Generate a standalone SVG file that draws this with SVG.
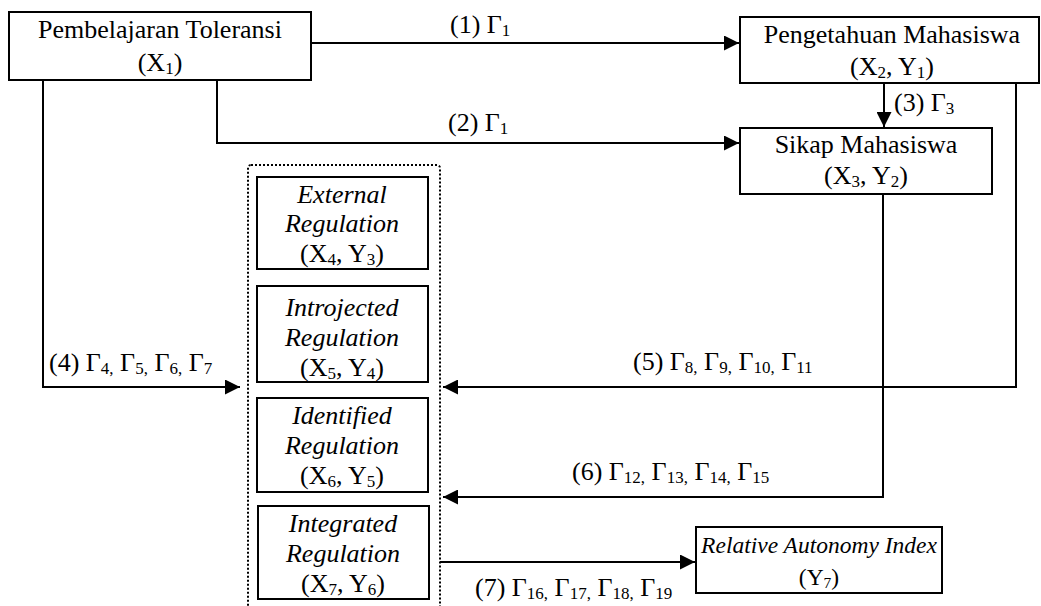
<svg xmlns="http://www.w3.org/2000/svg" width="1041" height="606" viewBox="0 0 1041 606">
<style>
  .box{fill:#fff;stroke:#000;stroke-width:2}
  .t{font-family:"Liberation Serif","Times New Roman",serif;font-size:26px;fill:#000}
  .c{text-anchor:middle}
  .i{font-style:italic}
  .s{font-size:17px}
  .sm{font-size:23.5px}
  .ss{font-size:15.5px}
  .ln{fill:none;stroke:#000;stroke-width:2}
  .dot{fill:none;stroke:#000;stroke-width:2;stroke-dasharray:2 2}
</style>
<defs>
  <marker id="ah" markerUnits="userSpaceOnUse" markerWidth="15" markerHeight="15" refX="15" refY="7.5" orient="auto">
    <path d="M0,0 L15,7.5 L0,15 z" fill="#000"/>
  </marker>
</defs>
<rect width="1041" height="606" fill="#fff"/>

<g id="connectors">
  <path class="ln" d="M311,43 H739" marker-end="url(#ah)"/>
  <path class="ln" d="M217,80 V143 H739" marker-end="url(#ah)"/>
  <path class="ln" d="M884,83 V127" marker-end="url(#ah)"/>
  <path class="ln" d="M43,80 V387 H240" marker-end="url(#ah)"/>
  <path class="ln" d="M1016,83 V387 H443" marker-end="url(#ah)"/>
  <path class="ln" d="M883,194 V497 H443" marker-end="url(#ah)"/>
  <path class="ln" d="M440,562 H695" marker-end="url(#ah)"/>
  <text class="t" x="450" y="33">(1) Γ<tspan class="s" dy="3">1</tspan></text>
  <text class="t" x="448" y="131">(2) Γ<tspan class="s" dy="3">1</tspan></text>
  <text class="t" x="894" y="111">(3) Γ<tspan class="s" dy="3">3</tspan></text>
  <text class="t" x="49" y="371">(4) Γ<tspan class="s" dy="3">4,</tspan><tspan dy="-3"> Γ</tspan><tspan class="s" dy="3">5,</tspan><tspan dy="-3"> Γ</tspan><tspan class="s" dy="3">6,</tspan><tspan dy="-3"> Γ</tspan><tspan class="s" dy="3">7</tspan></text>
  <text class="t" x="633" y="370">(5) Γ<tspan class="s" dy="3">8,</tspan><tspan dy="-3"> Γ</tspan><tspan class="s" dy="3">9,</tspan><tspan dy="-3"> Γ</tspan><tspan class="s" dy="3">10,</tspan><tspan dy="-3"> Γ</tspan><tspan class="s" dy="3">11</tspan></text>
  <text class="t" x="572" y="480">(6) Γ<tspan class="s" dy="3">12,</tspan><tspan dy="-3"> Γ</tspan><tspan class="s" dy="3">13,</tspan><tspan dy="-3"> Γ</tspan><tspan class="s" dy="3">14,</tspan><tspan dy="-3"> Γ</tspan><tspan class="s" dy="3">15</tspan></text>
  <text class="t" x="475" y="596">(7) Γ<tspan class="s" dy="3">16,</tspan><tspan dy="-3"> Γ</tspan><tspan class="s" dy="3">17,</tspan><tspan dy="-3"> Γ</tspan><tspan class="s" dy="3">18,</tspan><tspan dy="-3"> Γ</tspan><tspan class="s" dy="3">19</tspan></text>
</g>

<g id="n-pembelajaran">
  <rect class="box" x="9" y="12" width="302" height="68"/>
  <text class="t c" x="160" y="38">Pembelajaran Toleransi</text>
  <text class="t c" x="160" y="71">(X<tspan class="s" dy="3">1</tspan><tspan dy="-3">)</tspan></text>
</g>

<g id="n-pengetahuan">
  <rect class="box" x="740" y="17" width="299" height="66"/>
  <text class="t c" x="892" y="43">Pengetahuan Mahasiswa</text>
  <text class="t c" x="892" y="75">(X<tspan class="s" dy="3">2</tspan><tspan dy="-3">, Y</tspan><tspan class="s" dy="3">1</tspan><tspan dy="-3">)</tspan></text>
</g>

<g id="n-sikap">
  <rect class="box" x="740" y="128" width="252" height="66"/>
  <text class="t c" x="866" y="153">Sikap Mahasiswa</text>
  <text class="t c" x="866" y="184">(X<tspan class="s" dy="3">3</tspan><tspan dy="-3">, Y</tspan><tspan class="s" dy="3">2</tspan><tspan dy="-3">)</tspan></text>
</g>

<g id="n-motivasi-group">
  <rect class="dot" x="248" y="165" width="192" height="460" rx="3"/>
</g>

<g id="n-external">
  <rect class="box" x="257" y="177" width="171" height="92"/>
  <text class="t c i" x="342" y="203">External</text>
  <text class="t c i" x="342" y="232">Regulation</text>
  <text class="t c" x="342" y="262">(X<tspan class="s" dy="3">4</tspan><tspan dy="-3">, Y</tspan><tspan class="s" dy="3">3</tspan><tspan dy="-3">)</tspan></text>
</g>

<g id="n-introjected">
  <rect class="box" x="257" y="286" width="171" height="96"/>
  <text class="t c i" x="342" y="316">Introjected</text>
  <text class="t c i" x="342" y="346">Regulation</text>
  <text class="t c" x="342" y="376">(X<tspan class="s" dy="3">5</tspan><tspan dy="-3">, Y</tspan><tspan class="s" dy="3">4</tspan><tspan dy="-3">)</tspan></text>
</g>

<g id="n-identified">
  <rect class="box" x="257" y="398" width="171" height="94"/>
  <text class="t c i" x="342" y="424">Identified</text>
  <text class="t c i" x="342" y="454">Regulation</text>
  <text class="t c" x="342" y="484">(X<tspan class="s" dy="3">6</tspan><tspan dy="-3">, Y</tspan><tspan class="s" dy="3">5</tspan><tspan dy="-3">)</tspan></text>
</g>

<g id="n-integrated">
  <rect class="box" x="258" y="506" width="171" height="93"/>
  <text class="t c i" x="343" y="532">Integrated</text>
  <text class="t c i" x="343" y="562">Regulation</text>
  <text class="t c" x="343" y="592">(X<tspan class="s" dy="3">7</tspan><tspan dy="-3">, Y</tspan><tspan class="s" dy="3">6</tspan><tspan dy="-3">)</tspan></text>
</g>

<g id="n-rai">
  <rect class="box" x="696" y="527" width="246" height="66"/>
  <text class="t c i sm" x="819" y="553">Relative Autonomy Index</text>
  <text class="t c sm" x="819" y="585">(Y<tspan class="ss" dy="3">7</tspan><tspan dy="-3">)</tspan></text>
</g>
</svg>
